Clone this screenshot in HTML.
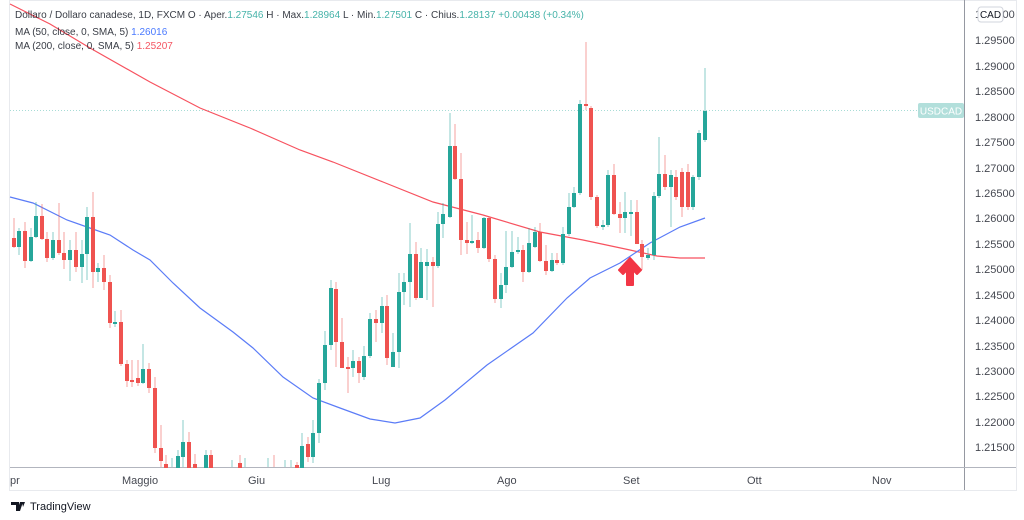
<!DOCTYPE html>
<html><head><meta charset="utf-8"><style>
body{margin:0;background:#fff;width:1024px;height:515px;overflow:hidden;font-family:"Liberation Sans",sans-serif}
svg text{font-family:"Liberation Sans",sans-serif}
</style></head><body>
<svg width="1024" height="515" viewBox="0 0 1024 515" xmlns="http://www.w3.org/2000/svg">
<rect x="0" y="0" width="1024" height="515" fill="#fff"/>
<rect x="9.5" y="0.5" width="1007" height="490" fill="none" stroke="#e8eaee"/>
<line x1="964.5" y1="0" x2="964.5" y2="490" stroke="#9598a1"/>
<line x1="10" y1="467.5" x2="1016" y2="467.5" stroke="#b2b5be"/>
<line x1="10" y1="110.5" x2="918" y2="110.5" stroke="#a8dcd6" stroke-dasharray="1,2"/>
<polyline fill="none" stroke="#f7525f" stroke-width="1.2" points="10,4 50,24 90,48 150,82 200,108 250,128 300,150 333,162 383,182 433,202 483,215 540,232 583,240 630,250 657,256 680,258 705,258"/>
<polyline fill="none" stroke="#5b7cf7" stroke-width="1.2" points="10,197 33,203 67,220 87,227 110,235 133,250 150,260 173,283 200,308 233,332 253,348 283,377 313,398 340,408 370,419 395,423 420,418 445,400 487,365 533,333 567,298 590,278 620,263 650,243 680,227 705,218"/>
<g stroke-width="1">
<g stroke="#ef5350" stroke-opacity="0.55">
<line x1="14" y1="218" x2="14" y2="248"/><line x1="25" y1="222" x2="25" y2="268"/><line x1="42" y1="204" x2="42" y2="240"/><line x1="47" y1="232" x2="47" y2="262"/><line x1="59" y1="203" x2="59" y2="255"/><line x1="64" y1="232" x2="64" y2="269"/><line x1="76" y1="232" x2="76" y2="272"/><line x1="93" y1="192" x2="93" y2="288"/><line x1="104" y1="255" x2="104" y2="290"/><line x1="110" y1="275" x2="110" y2="328"/><line x1="121" y1="310" x2="121" y2="366"/><line x1="127" y1="360" x2="127" y2="387"/><line x1="132" y1="360" x2="132" y2="387"/><line x1="138" y1="360" x2="138" y2="386"/><line x1="149" y1="363" x2="149" y2="393"/><line x1="155" y1="377" x2="155" y2="453"/><line x1="161" y1="425" x2="161" y2="467"/><line x1="166" y1="455" x2="166" y2="467"/><line x1="189" y1="432" x2="189" y2="467"/><line x1="195" y1="454" x2="195" y2="467"/><line x1="211" y1="450" x2="211" y2="467"/><line x1="240" y1="455" x2="240" y2="467"/><line x1="274" y1="455" x2="274" y2="467"/><line x1="297" y1="462" x2="297" y2="467"/><line x1="308" y1="437" x2="308" y2="462"/><line x1="336" y1="282" x2="336" y2="367"/><line x1="342" y1="318" x2="342" y2="368"/><line x1="348" y1="357" x2="348" y2="393"/><line x1="359" y1="357" x2="359" y2="383"/><line x1="376" y1="310" x2="376" y2="342"/><line x1="387" y1="295" x2="387" y2="365"/><line x1="416" y1="242" x2="416" y2="300"/><line x1="433" y1="257" x2="433" y2="307"/><line x1="455" y1="124" x2="455" y2="180"/><line x1="461" y1="153" x2="461" y2="255"/><line x1="467" y1="222" x2="467" y2="254"/><line x1="478" y1="232" x2="478" y2="253"/><line x1="489" y1="217" x2="489" y2="262"/><line x1="495" y1="255" x2="495" y2="303"/><line x1="523" y1="245" x2="523" y2="282"/><line x1="540" y1="223" x2="540" y2="262"/><line x1="546" y1="245" x2="546" y2="275"/><line x1="557" y1="253" x2="557" y2="265"/><line x1="586" y1="42" x2="586" y2="110"/><line x1="591" y1="106" x2="591" y2="200"/><line x1="597" y1="195" x2="597" y2="228"/><line x1="614" y1="164" x2="614" y2="215"/><line x1="620" y1="202" x2="620" y2="233"/><line x1="637" y1="200" x2="637" y2="244"/><line x1="642" y1="240" x2="642" y2="270"/><line x1="665" y1="155" x2="665" y2="190"/><line x1="676" y1="170" x2="676" y2="200"/><line x1="682" y1="168" x2="682" y2="217"/><line x1="688" y1="164" x2="688" y2="210"/>
</g>
<g stroke="#26a69a" stroke-opacity="0.55">
<line x1="19" y1="228" x2="19" y2="255"/><line x1="31" y1="228" x2="31" y2="262"/><line x1="36" y1="202" x2="36" y2="238"/><line x1="53" y1="232" x2="53" y2="260"/><line x1="70" y1="240" x2="70" y2="281"/><line x1="82" y1="240" x2="82" y2="283"/><line x1="87" y1="207" x2="87" y2="280"/><line x1="98" y1="263" x2="98" y2="282"/><line x1="115" y1="311" x2="115" y2="327"/><line x1="143" y1="344" x2="143" y2="384"/><line x1="172" y1="458" x2="172" y2="467"/><line x1="178" y1="450" x2="178" y2="467"/><line x1="183" y1="420" x2="183" y2="467"/><line x1="206" y1="450" x2="206" y2="467"/><line x1="232" y1="460" x2="232" y2="467"/><line x1="245" y1="458" x2="245" y2="467"/><line x1="268" y1="458" x2="268" y2="467"/><line x1="285" y1="460" x2="285" y2="467"/><line x1="291" y1="460" x2="291" y2="467"/><line x1="302" y1="433" x2="302" y2="467"/><line x1="313" y1="420" x2="313" y2="463"/><line x1="319" y1="379" x2="319" y2="443"/><line x1="325" y1="331" x2="325" y2="390"/><line x1="331" y1="280" x2="331" y2="350"/><line x1="353" y1="350" x2="353" y2="377"/><line x1="364" y1="346" x2="364" y2="380"/><line x1="370" y1="313" x2="370" y2="358"/><line x1="382" y1="297" x2="382" y2="333"/><line x1="393" y1="333" x2="393" y2="367"/><line x1="399" y1="273" x2="399" y2="368"/><line x1="404" y1="273" x2="404" y2="305"/><line x1="410" y1="223" x2="410" y2="307"/><line x1="421" y1="248" x2="421" y2="298"/><line x1="427" y1="249" x2="427" y2="300"/><line x1="438" y1="212" x2="438" y2="268"/><line x1="443" y1="203" x2="443" y2="238"/><line x1="450" y1="113" x2="450" y2="218"/><line x1="472" y1="215" x2="472" y2="244"/><line x1="484" y1="217" x2="484" y2="249"/><line x1="501" y1="273" x2="501" y2="308"/><line x1="506" y1="231" x2="506" y2="293"/><line x1="512" y1="231" x2="512" y2="268"/><line x1="518" y1="237" x2="518" y2="254"/><line x1="529" y1="228" x2="529" y2="273"/><line x1="535" y1="227" x2="535" y2="248"/><line x1="552" y1="253" x2="552" y2="272"/><line x1="563" y1="227" x2="563" y2="265"/><line x1="569" y1="193" x2="569" y2="236"/><line x1="574" y1="187" x2="574" y2="208"/><line x1="580" y1="100" x2="580" y2="195"/><line x1="603" y1="220" x2="603" y2="230"/><line x1="608" y1="170" x2="608" y2="227"/><line x1="625" y1="192" x2="625" y2="233"/><line x1="631" y1="200" x2="631" y2="236"/><line x1="648" y1="248" x2="648" y2="260"/><line x1="654" y1="192" x2="654" y2="260"/><line x1="659" y1="137" x2="659" y2="198"/><line x1="671" y1="170" x2="671" y2="227"/><line x1="693" y1="175" x2="693" y2="210"/><line x1="699" y1="130" x2="699" y2="180"/><line x1="705" y1="68" x2="705" y2="142"/>
</g>
</g>
<g fill="#ef5350">
<rect x="12" y="238" width="4" height="9"/><rect x="23" y="231" width="4" height="30"/><rect x="40" y="216" width="4" height="23"/><rect x="45" y="239" width="4" height="19"/><rect x="57" y="240" width="4" height="13"/><rect x="62" y="253" width="4" height="7"/><rect x="74" y="250" width="4" height="17"/><rect x="91" y="217" width="4" height="55"/><rect x="102" y="268" width="4" height="14"/><rect x="108" y="282" width="4" height="41"/><rect x="119" y="322" width="4" height="42"/><rect x="125" y="364" width="4" height="17"/><rect x="130" y="380" width="4" height="2"/><rect x="136" y="378" width="4" height="5"/><rect x="147" y="369" width="4" height="19"/><rect x="153" y="388" width="4" height="60"/><rect x="159" y="448" width="4" height="13"/><rect x="164" y="464" width="4" height="4"/><rect x="187" y="442" width="4" height="26"/><rect x="193" y="464" width="4" height="4"/><rect x="209" y="455" width="4" height="13"/><rect x="238" y="463" width="4" height="5"/><rect x="295" y="465" width="4" height="3"/><rect x="306" y="444" width="4" height="13"/><rect x="334" y="289" width="4" height="53"/><rect x="340" y="342" width="4" height="26"/><rect x="346" y="367" width="4" height="2"/><rect x="357" y="361" width="4" height="12"/><rect x="374" y="319" width="4" height="4"/><rect x="385" y="306" width="4" height="52"/><rect x="414" y="254" width="4" height="44"/><rect x="431" y="262" width="4" height="4"/><rect x="453" y="146" width="4" height="33"/><rect x="459" y="179" width="4" height="61"/><rect x="465" y="240" width="4" height="3"/><rect x="476" y="240" width="4" height="8"/><rect x="487" y="218" width="4" height="41"/><rect x="493" y="259" width="4" height="40"/><rect x="521" y="250" width="4" height="22"/><rect x="538" y="232" width="4" height="29"/><rect x="544" y="261" width="4" height="10"/><rect x="555" y="260" width="4" height="3"/><rect x="584" y="104" width="4" height="2"/><rect x="589" y="108" width="4" height="89"/><rect x="595" y="197" width="4" height="29"/><rect x="612" y="175" width="4" height="39"/><rect x="618" y="214" width="4" height="4"/><rect x="635" y="212" width="4" height="32"/><rect x="640" y="244" width="4" height="13"/><rect x="663" y="174" width="4" height="13"/><rect x="674" y="177" width="4" height="20"/><rect x="680" y="172" width="4" height="35"/><rect x="686" y="172" width="4" height="35"/>
</g>
<g fill="#26a69a">
<rect x="17" y="231" width="4" height="16"/><rect x="29" y="237" width="4" height="24"/><rect x="34" y="216" width="4" height="21"/><rect x="51" y="240" width="4" height="18"/><rect x="68" y="250" width="4" height="10"/><rect x="80" y="254" width="4" height="13"/><rect x="85" y="217" width="4" height="37"/><rect x="96" y="268" width="4" height="4"/><rect x="113" y="322" width="4" height="2"/><rect x="141" y="369" width="4" height="14"/><rect x="176" y="456" width="4" height="12"/><rect x="181" y="442" width="4" height="15"/><rect x="204" y="455" width="4" height="13"/><rect x="300" y="446" width="4" height="22"/><rect x="311" y="433" width="4" height="24"/><rect x="317" y="383" width="4" height="50"/><rect x="323" y="345" width="4" height="38"/><rect x="329" y="288" width="4" height="57"/><rect x="351" y="361" width="4" height="7"/><rect x="362" y="356" width="4" height="21"/><rect x="368" y="319" width="4" height="37"/><rect x="380" y="306" width="4" height="17"/><rect x="391" y="352" width="4" height="15"/><rect x="397" y="292" width="4" height="60"/><rect x="402" y="282" width="4" height="10"/><rect x="408" y="254" width="4" height="28"/><rect x="419" y="262" width="4" height="36"/><rect x="425" y="262" width="4" height="4"/><rect x="436" y="224" width="4" height="42"/><rect x="441" y="214" width="4" height="10"/><rect x="448" y="146" width="4" height="71"/><rect x="470" y="241" width="4" height="2"/><rect x="482" y="218" width="4" height="30"/><rect x="499" y="285" width="4" height="14"/><rect x="504" y="267" width="4" height="18"/><rect x="510" y="252" width="4" height="15"/><rect x="516" y="250" width="4" height="2"/><rect x="527" y="243" width="4" height="29"/><rect x="533" y="232" width="4" height="15"/><rect x="550" y="260" width="4" height="11"/><rect x="561" y="234" width="4" height="29"/><rect x="567" y="207" width="4" height="27"/><rect x="572" y="193" width="4" height="14"/><rect x="578" y="104" width="4" height="89"/><rect x="601" y="225" width="4" height="2"/><rect x="606" y="175" width="4" height="50"/><rect x="623" y="212" width="4" height="6"/><rect x="629" y="212" width="4" height="2"/><rect x="646" y="255" width="4" height="3"/><rect x="652" y="196" width="4" height="59"/><rect x="657" y="174" width="4" height="22"/><rect x="669" y="175" width="4" height="12"/><rect x="691" y="177" width="4" height="30"/><rect x="697" y="133" width="4" height="44"/><rect x="703" y="111" width="4" height="29"/>
</g>
<path d="M630,258 L619,270 L623,274 L627,270 L627,285 L633,285 L633,270 L637,274 L641,270 Z" fill="#f23645" stroke="#f23645" stroke-width="2" stroke-linejoin="round"/>
<rect x="918" y="103" width="46" height="15" rx="2" fill="#b2dfdb"/>
<text x="941" y="114.5" font-size="10" fill="#fff" text-anchor="middle">USDCAD</text>
<g font-size="11" fill="#131722" fill-opacity="0.8">
<text x="975" y="18">1.30000</text>
<text x="975" y="44">1.29500</text><text x="975" y="70">1.29000</text><text x="975" y="95">1.28500</text><text x="975" y="121">1.28000</text><text x="975" y="146">1.27500</text><text x="975" y="172">1.27000</text><text x="975" y="197">1.26500</text><text x="975" y="222">1.26000</text><text x="975" y="248">1.25500</text><text x="975" y="273">1.25000</text><text x="975" y="299">1.24500</text><text x="975" y="324">1.24000</text><text x="975" y="350">1.23500</text><text x="975" y="375">1.23000</text><text x="975" y="400">1.22500</text><text x="975" y="426">1.22000</text><text x="975" y="451">1.21500</text>
</g>
<rect x="978" y="7" width="25" height="15" rx="3" fill="#fff" stroke="#d1d4dc"/>
<text x="990.5" y="18" font-size="10" fill="#131722" text-anchor="middle">CAD</text>
<g font-size="11" fill="#131722" fill-opacity="0.8">
<text x="10" y="484">pr</text><text x="122" y="484">Maggio</text><text x="248" y="484">Giu</text><text x="372" y="484">Lug</text><text x="497" y="484">Ago</text><text x="623" y="484">Set</text><text x="747" y="484">Ott</text><text x="872" y="484">Nov</text>
</g>
<g font-size="10" fill="#131722" fill-opacity="0.85">
<text x="15" y="18">Dollaro / Dollaro canadese, 1D, FXCM  O · Aper.<tspan fill="#26a69a">1.27546</tspan>  H · Max.<tspan fill="#26a69a">1.28964</tspan>  L · Min.<tspan fill="#26a69a">1.27501</tspan>  C · Chius.<tspan fill="#26a69a">1.28137  +0.00438 (+0.34%)</tspan></text>
<text x="15" y="35">MA (50, close, 0, SMA, 5)  <tspan fill="#2962ff">1.26016</tspan></text>
<text x="15" y="49">MA (200, close, 0, SMA, 5)  <tspan fill="#f23645">1.25207</tspan></text>
</g>
<path d="M11,502 h8 v9 h-3 v-6 h-5 z M20,502 h3 l-3,9 h-3 z M22,502 h3 l-2,5 z" fill="#131722"/>
<text x="30" y="510" font-size="11" fill="#131722">TradingView</text>
</svg>
</body></html>
